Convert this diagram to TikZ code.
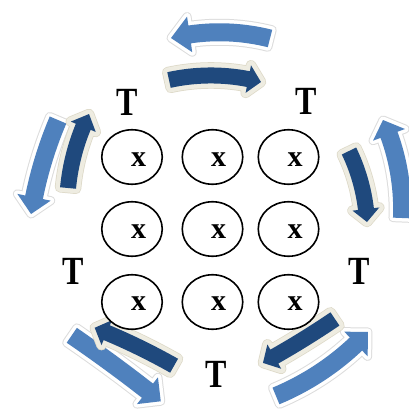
\documentclass[tikz,border=0pt]{standalone}
\usepackage{fontspec}
\setmainfont{Liberation Serif}
\usetikzlibrary{shapes.geometric}
\definecolor{lblue}{HTML}{4F81BD}
\definecolor{dblue}{HTML}{1F497D}
\definecolor{beige}{HTML}{EEECE1}
\definecolor{beigeedge}{HTML}{DDD9C8}
\definecolor{glowgray}{HTML}{DCDCDC}
% #1 style, #2/#3 tail, #4/#5 tip, #6 sag, #7 body half width, #8 head half width, #9 head length
\newcommand\arcarrow[9]{%
 \pgfmathsetmacro\aDX{(#4)-(#2)}%
 \pgfmathsetmacro\aDY{(#5)-(#3)}%
 \pgfmathsetmacro\aL{veclen(\aDX,\aDY)}%
 \pgfmathsetmacro\aR{(\aL*\aL/4+(#6)*(#6))/(2*(#6))}%
 \pgfmathsetmacro\aK{\aR-(#6)}%
 \pgfmathsetmacro\aCX{((#2)+(#4))/2+\aK*(\aDY/\aL)}%
 \pgfmathsetmacro\aCY{((#3)+(#5))/2-\aK*(\aDX/\aL)}%
 \pgfmathsetmacro\aRR{abs(\aR)}%
 \pgfmathsetmacro\aA{atan2((#3)-\aCY,(#2)-\aCX)}%
 \pgfmathsetmacro\aB{atan2((#5)-\aCY,(#4)-\aCX)}%
 \pgfmathsetmacro\aD{mod(\aB-\aA+540,360)-180}%
 \pgfmathsetmacro\aH{\aD-sign(\aD)*(#9)/\aRR*180/pi}%
 \pgfmathsetmacro\aHn{-\aH}%
 \pgfmathsetmacro\aE{\aA+\aH}%
 \pgfmathsetmacro\aF{\aA+\aD}%
 \pgfmathsetmacro\aRo{\aRR+(#7)}%
 \pgfmathsetmacro\aRi{\aRR-(#7)}%
 \pgfmathsetmacro\aWo{\aRR+(#8)}%
 \pgfmathsetmacro\aWi{\aRR-(#8)}%
 \begin{scope}[shift={(\aCX,\aCY)}]
 \path[#1] (\aA:\aRo) arc[start angle=\aA, delta angle=\aH, radius=\aRo] -- (\aE:\aWo) -- (\aF:\aRR) -- (\aE:\aWi) -- (\aE:\aRi) arc[start angle=\aE, delta angle=\aHn, radius=\aRi] -- cycle;
 \end{scope}}
\begin{document}
\begin{tikzpicture}[x=1pt,y=1pt,yscale=-1,
  lightarr/.style={fill=lblue, preaction={draw=glowgray, line width=9pt, line join=round}, preaction={draw=white, line width=7pt, line join=round}},
  darkarr/.style={fill=dblue, preaction={draw=beigeedge, line width=10.5pt, line join=round}, preaction={draw=beige, line width=9pt, line join=round}},
  ell/.style={draw, fill=white, ellipse, line width=1.6pt, minimum width=60.5pt, minimum height=54.5pt, inner sep=0pt},
  xl/.style={inner sep=0pt, font=\fontsize{30}{30}\selectfont\bfseries},
  tl/.style={inner sep=0pt, font=\fontsize{32}{32}\selectfont\bfseries}]
\useasboundingbox (0,0) rectangle (409,410);
\fill[white] (0,0) rectangle (409,410);
% outer (light) arrows
\arcarrow{lightarr}{270}{38.5}{171}{38}{6}{9}{18}{19}
\arcarrow{lightarr}{402}{218}{383}{120}{5.8}{9}{17}{16}
\arcarrow{lightarr}{58}{120}{31}{214}{3}{9}{17}{17}
\arcarrow{lightarr}{72}{335}{161}{401}{-1}{9}{17}{17}
\arcarrow{lightarr}{276}{396}{368}{332}{6}{9}{17}{17}
% inner (dark) arrows
\arcarrow{darkarr}{169}{80}{261}{82}{-5.5}{8}{14}{13}
\arcarrow{darkarr}{349}{151}{367}{222}{-3.7}{8}{13.5}{13}
\arcarrow{darkarr}{68}{188}{89}{114}{-3.5}{8}{13.5}{14}
\arcarrow{darkarr}{174.5}{365}{95}{327}{1.5}{8}{13.5}{13}
\arcarrow{darkarr}{335}{319}{263}{363}{-1}{8}{14}{13}
% grid of circles
\node[ell] (e11) at (132,157) {};
\node[ell] (e12) at (212.5,157) {};
\node[ell] (e13) at (288.5,157) {};
\node[ell] (e21) at (132,229) {};
\node[ell] (e22) at (212.5,229) {};
\node[ell] (e23) at (288.5,229) {};
\node[ell] (e31) at (132,302) {};
\node[ell] (e32) at (212.5,302) {};
\node[ell] (e33) at (288.5,302) {};
\node[xl] (x11) at (138.5,160) {x};
\node[xl] (x12) at (218.5,160) {x};
\node[xl] (x13) at (295,160) {x};
\node[xl] (x21) at (138.5,232) {x};
\node[xl] (x22) at (218.5,232) {x};
\node[xl] (x23) at (295,232) {x};
\node[xl] (x31) at (138.5,304) {x};
\node[xl] (x32) at (218.5,304) {x};
\node[xl] (x33) at (295,304) {x};
% T labels
\node[tl] (t1) at (127,102) {\scalebox{1}[1.25]{T}};
\node[tl] (t2) at (306,101) {\scalebox{1}[1.25]{T}};
\node[tl] (t3) at (73,271) {\scalebox{1}[1.25]{T}};
\node[tl] (t4) at (359,271) {\scalebox{1}[1.25]{T}};
\node[tl] (t5) at (216,374) {\scalebox{1}[1.25]{T}};
\end{tikzpicture}
\end{document}
